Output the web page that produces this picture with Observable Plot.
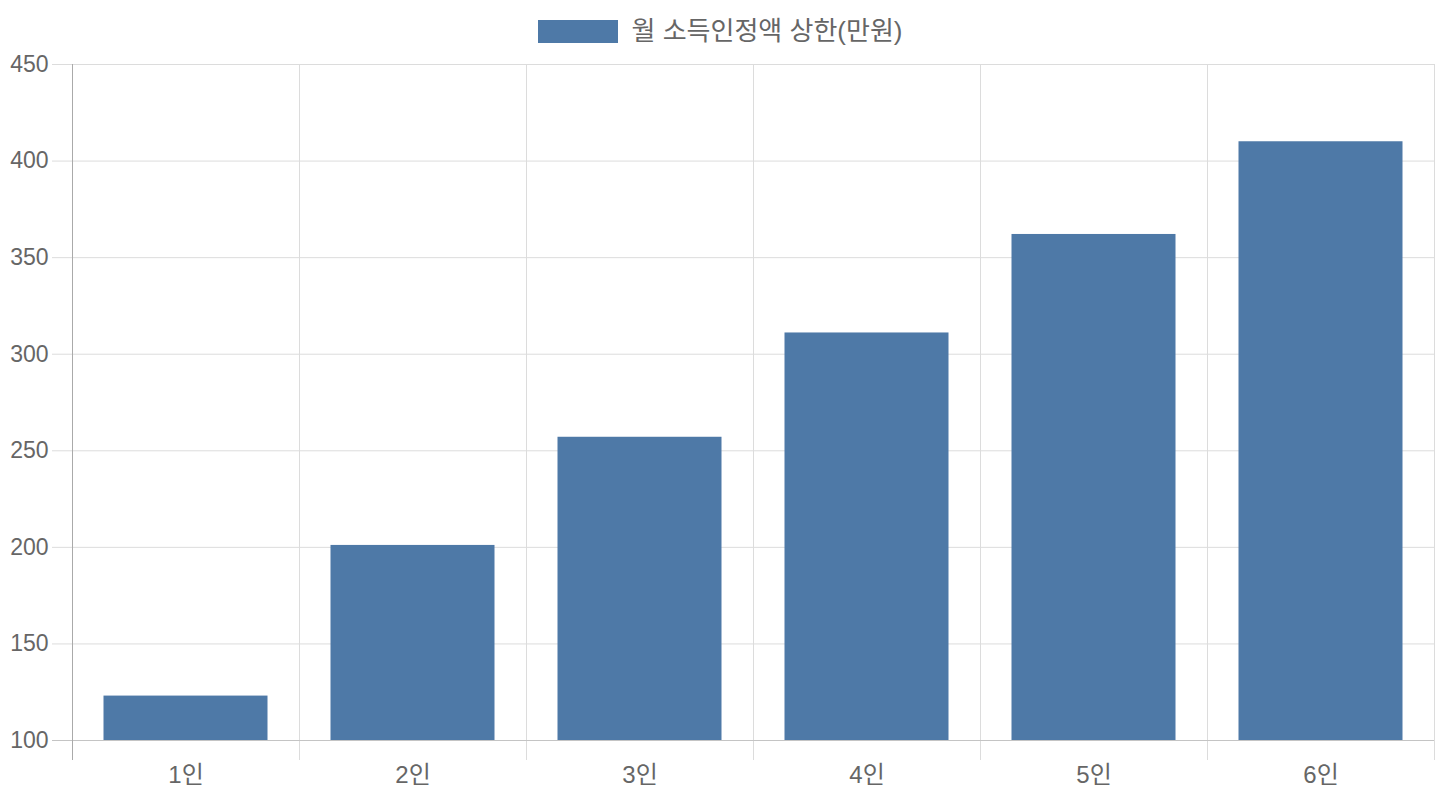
<!DOCTYPE html>
<html>
<head>
<meta charset="utf-8">
<script src="https://cdn.jsdelivr.net/npm/d3@7"></script>
<script src="https://cdn.jsdelivr.net/npm/@observablehq/plot@0.6"></script>
<style>
  html, body { margin: 0; padding: 0; background: #fff; }
  body { width: 1440px; height: 800px; overflow: hidden; font-family: "Liberation Sans", "Noto Sans CJK KR", sans-serif; }
  #legend { height: 50px; box-sizing: border-box; padding-top: 20px; display: flex; justify-content: center; align-items: flex-start; }
  #legend .sw { width: 80px; height: 23px; margin-right: 14px; }
  #legend .lb { font-size: 26px; color: #666; line-height: 23px; white-space: nowrap; }
</style>
</head>
<body>
<div id="legend"></div>
<div id="chart"></div>
<script>
const categories = ["1인", "2인", "3인", "4인", "5인", "6인"];
const values = [123, 201, 257, 311, 362, 410];
const yTicks = [100, 150, 200, 250, 300, 350, 400, 450];
const seriesName = "월 소득인정액 상한(만원)";
const barColor = "#4e79a7";

const legend = document.getElementById("legend");
legend.innerHTML = `<div class="sw" style="background:${barColor}"></div><div class="lb">${seriesName}</div>`;

const data = categories.map((c, i) => ({cat: c, i, value: values[i]}));
const bounds = d3.range(categories.length + 1);
const yMin = yTicks[0], yMax = yTicks[yTicks.length - 1];

const chart = Plot.plot({
  width: 1440,
  height: 750,
  marginTop: 14,
  marginBottom: 60,
  marginLeft: 72,
  marginRight: 6,
  style: {fontSize: "22px", color: "#666", fontFamily: "'Liberation Sans', 'Noto Sans CJK KR', sans-serif", background: "#fff"},
  x: {type: "linear", domain: [0, categories.length], axis: null},
  y: {domain: [yMin, yMax], axis: null, label: null},
  marks: [
    Plot.ruleY(yTicks.slice(1), {stroke: "#dcdcdc", strokeWidth: 1, insetLeft: -20}),
    Plot.ruleX(bounds.slice(1), {stroke: "#dcdcdc", strokeWidth: 1, insetBottom: -20}),
    Plot.rectY(data, {x1: d => d.i, x2: d => d.i + 1, y1: yMin, y2: "value", fill: barColor, insetLeft: 31.5, insetRight: 31.5}),
    Plot.ruleY([yMin], {stroke: "#c4c4c4", strokeWidth: 1, insetLeft: -20}),
    Plot.ruleX([0], {stroke: "#aaa", strokeWidth: 1, insetBottom: -20}),
    Plot.axisY(yTicks, {tickSize: 0, tickPadding: 24, fill: "#666", fontSize: 23, label: null}),
    Plot.text(data, {x: d => d.i + 0.5, text: "cat", frameAnchor: "bottom", lineAnchor: "middle", dy: 35, fill: "#666", fontSize: 24})
  ]
});
document.getElementById("chart").appendChild(chart);
</script>
</body>
</html>
